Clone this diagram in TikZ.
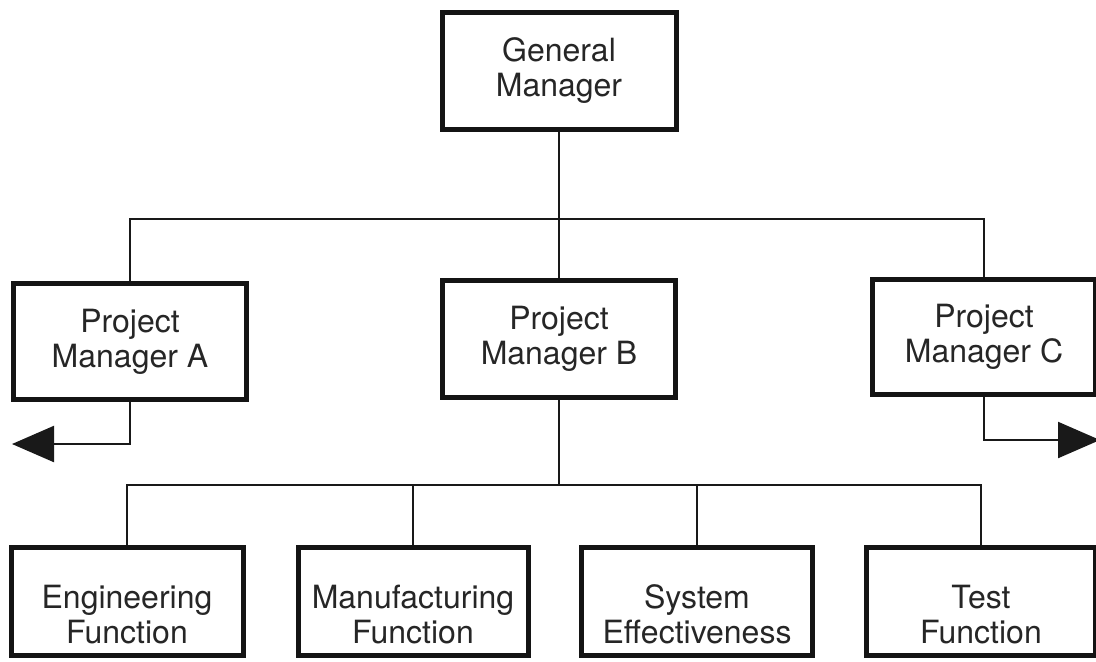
\documentclass[tikz,border=0pt]{standalone}
\usepackage{fontspec}
\setmainfont{TeX Gyre Heros}
\usetikzlibrary{arrows.meta}
\begin{document}
\begin{tikzpicture}[x=0.5pt,y=-0.5pt,
  box/.style={draw=black!92, line width=2.5pt, fill=white, inner sep=0pt,
    align=center, font=\fontsize{16}{17.5}\selectfont, text=black!85},
  lowtext/.style={align=center, font=\fontsize{16}{17.5}\selectfont,
    text=black!85, inner sep=0pt, yshift=-6.5pt},
  link/.style={line width=1.1pt, draw=black!90},
  outarrow/.style={link, -{Triangle[length=21pt,width=18pt]}}]
\useasboundingbox (0,0) rectangle (1096,661);
\clip (0,0) rectangle (1096,661);
\fill[white] (0,0) rectangle (1096,661);

% top level
\node[box, minimum width=117pt, minimum height=58.5pt] (gm) at (559,71) {General\\Manager};

% project managers
\node[box, minimum width=116.5pt, minimum height=58pt] (pma) at (130,341.5) {Project\\Manager A};
\node[box, minimum width=116.5pt, minimum height=58.5pt] (pmb) at (559,339) {Project\\Manager B};
\node[box, minimum width=111.5pt, minimum height=57.5pt] (pmc) at (984,337) {Project\\Manager C};

% functional groups
\node[box, minimum width=116pt, minimum height=54pt,
  label={[lowtext]center:Engineering\\Function}] (eng) at (127,601.5) {};
\node[box, minimum width=115pt, minimum height=54pt,
  label={[lowtext]center:Manufacturing\\Function}] (mf) at (413,601.5) {};
\node[box, minimum width=115.5pt, minimum height=54pt,
  label={[lowtext]center:System\\Effectiveness}] (se) at (697,601.5) {};
\node[box, minimum width=114.5pt, minimum height=54pt,
  label={[lowtext]center:Test\\Function}] (tst) at (981,601.5) {};

% bus levels and free arrow ends
\coordinate (topbus) at (0,219);
\coordinate (botbus) at (0,485);
\coordinate (aend) at (12,444);
\coordinate (cend) at (1100,440);

% connectors
\draw[link] (gm.south) -- (pmb.north);
\draw[link] (pma.north) |- (pmc.north |- topbus) -- (pmc.north);
\draw[outarrow] (pma.south) |- (aend);
\draw[outarrow] (pmc.south) |- (cend);
\draw[link] (pmb.south) -- (pmb.south |- botbus);
\draw[link] (eng.north) |- (tst.north |- botbus) -- (tst.north);
\draw[link] (mf.north) -- (mf.north |- botbus);
\draw[link] (se.north) -- (se.north |- botbus);
\end{tikzpicture}
\end{document}
